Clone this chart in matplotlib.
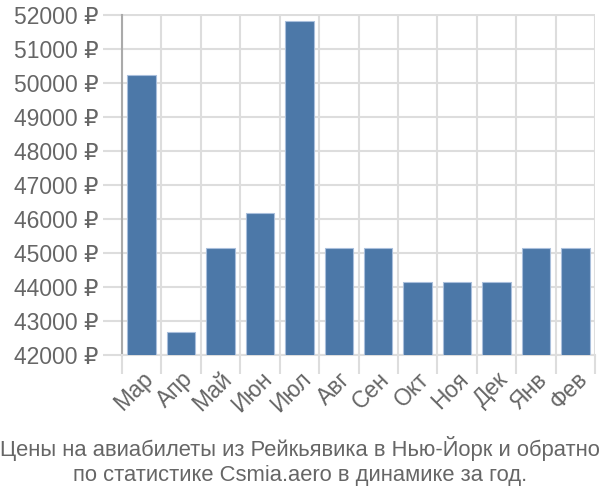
import matplotlib.pyplot as plt
import numpy as np

months = ["Мар", "Апр", "Май", "Июн", "Июл", "Авг", "Сен", "Окт", "Ноя", "Дек", "Янв", "Фев"]
prices = [50230, 42690, 45150, 46170, 51810, 45150, 45150, 44140, 44140, 44140, 45150, 45150]
yticks = list(range(42000, 52001, 1000))

plt.rcParams['font.family'] = ['Liberation Sans', 'DejaVu Sans']

fig = plt.figure(figsize=(6, 5), dpi=100)
ax = fig.add_axes([0.203, 0.29, 0.789, 0.681])

x = np.arange(len(months))
ax.bar(x, prices, width=0.72, color="#4c78a8", edgecolor="#a9bfdc", linewidth=0.8, zorder=3)

ax.set_xlim(-0.5, len(months) - 0.5)
ax.set_ylim(42000, 52000)
ax.set_yticks(yticks)
ax.set_yticklabels([f"{v} ₽" for v in yticks])

ax.set_xticks(x)
ax.set_xticklabels(months, rotation=45, ha="right", va="top", rotation_mode="anchor")
ax.set_xticks(np.arange(-0.5, len(months)), minor=True)

ax.tick_params(axis="y", length=14, width=1.5, color="#dddddd", labelsize=16.5, labelcolor="#666666", pad=3)
ax.tick_params(axis="x", which="major", length=0, labelsize=16.5, labelcolor="#666666", pad=9)
ax.tick_params(axis="x", which="minor", length=14, width=1.5, color="#dddddd")

ax.grid(axis="y", color="#dddddd", linewidth=1.5, zorder=0)
ax.grid(axis="x", which="minor", color="#dddddd", linewidth=1.5, zorder=0)

for s in ["top", "right"]:
    ax.spines[s].set_visible(False)
ax.spines["left"].set_color("#aaaaaa")
ax.spines["left"].set_linewidth(1.5)
ax.spines["bottom"].set_color("#dddddd")
ax.spines["bottom"].set_linewidth(1.5)

fig.text(0.5, 0.078, "Цены на авиабилеты из Рейкьявика в Нью-Йорк и обратно\nпо статистике Csmia.aero в динамике за год.",
         ha="center", va="center", fontsize=15.8, color="#666666", linespacing=1.28)

fig.savefig("out.png", dpi=100)
